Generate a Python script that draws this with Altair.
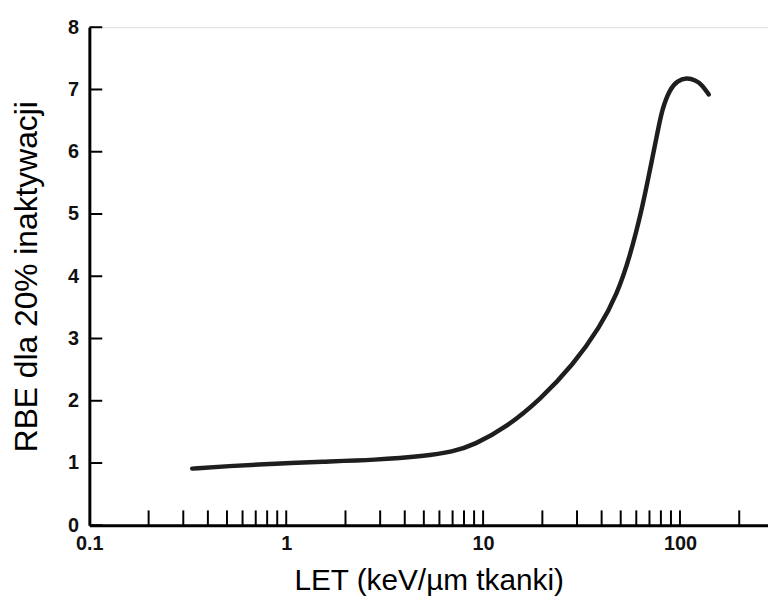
import altair as alt
import pandas as pd

# curve
let_vals = [0.333, 0.5, 0.89, 1.5, 2.83, 5.05, 7.0, 9.0, 13.2, 19.5, 28.7, 39.2, 48, 55.5,
            64.4, 70.7, 76.6, 81.2, 89, 97, 108, 120, 129, 140]
rbe_vals = [0.91, 0.95, 0.99, 1.02, 1.05, 1.11, 1.18, 1.29, 1.58, 2.02, 2.58, 3.18, 3.72, 4.3,
            5.1, 5.74, 6.28, 6.69, 7.01, 7.14, 7.19, 7.15, 7.08, 6.92]

x_label_vals = [0.1, 1, 10, 100]
x_tick_vals = [0.2, 0.3, 0.4, 0.5, 0.6, 0.7, 0.8, 0.9,
               1, 2, 3, 4, 5, 6, 7, 8, 9,
               10, 20, 30, 40, 50, 60, 70, 80, 90,
               100, 200]
y_tick_vals = [0, 1, 2, 3, 4, 5, 6, 7, 8]

W, H = 684, 502
df = pd.DataFrame({"LET": let_vals, "RBE": rbe_vals})
xt = pd.DataFrame({"t": x_tick_vals})
yt = pd.DataFrame({"t": y_tick_vals})

xscale = alt.Scale(type="log", domain=[0.1, 280], nice=False)
yscale = alt.Scale(domain=[0, 8], nice=False)

line = alt.Chart(df).mark_line(
    interpolate="basis", color="#1e1e1e", strokeWidth=4.5, strokeCap="round"
).encode(
    x=alt.X("LET:Q", scale=xscale, title="LET (keV/µm tkanki)",
            axis=alt.Axis(values=x_label_vals, ticks=False, grid=False,
                          labelExpr="datum.value == 0.1 ? '0.1' : format(datum.value, 'd')",
                          labelFont="Liberation Sans", labelFontWeight="bold",
                          labelFontSize=20, labelColor="#111", labelPadding=8,
                          titleFont="Liberation Sans", titleFontSize=30,
                          titleFontWeight="normal", titleColor="#000", titlePadding=13,
                          domainColor="#000", domainWidth=3, labelFlush=False)),
    y=alt.Y("RBE:Q", scale=yscale, title="RBE dla 20% inaktywacji",
            axis=alt.Axis(values=y_tick_vals, ticks=False, grid=False, format="d",
                          labelFont="Liberation Sans", labelFontWeight="bold",
                          labelFontSize=20, labelColor="#111", labelPadding=11,
                          titleFont="Liberation Sans", titleFontSize=32,
                          titleFontWeight="normal", titleColor="#000", titlePadding=24,
                          domainColor="#000", domainWidth=3)),
)

xticks = alt.Chart(xt).mark_rule(color="#000", strokeWidth=2).encode(
    x=alt.X("t:Q", scale=xscale),
    y=alt.value(H),
    y2=alt.value(H - 15),
)

yticks = alt.Chart(yt).mark_rule(color="#000", strokeWidth=2).encode(
    y=alt.Y("t:Q", scale=yscale),
    x=alt.value(0),
    x2=alt.value(13),
)

chart = alt.layer(line, xticks, yticks).properties(
    width=W, height=H,
    padding={"left": 82, "top": 17, "right": 0, "bottom": 82},
    autosize=alt.AutoSizeParams(type="none"),
).configure_view(stroke=None).configure(background="white")

chart.save("out.html", embed_options={"renderer": "svg", "actions": False})
